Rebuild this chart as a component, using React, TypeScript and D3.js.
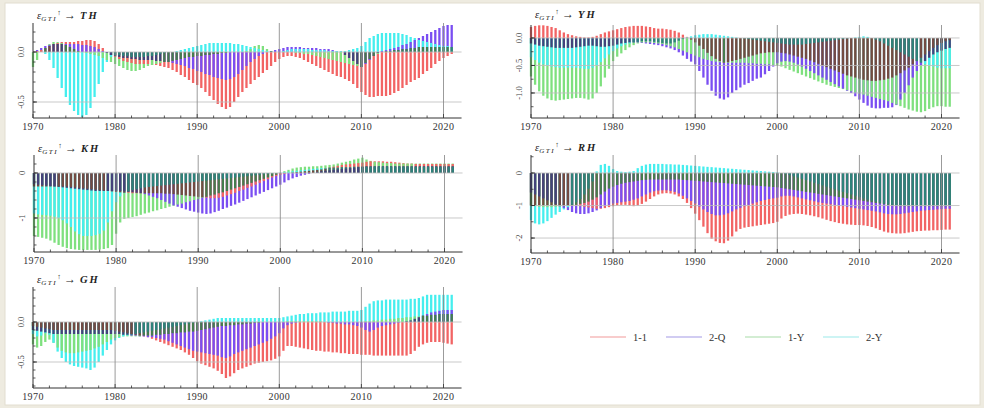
import React from 'react';
import * as d3 from 'd3';

// ---- data: semiannual observations 1970.0 ... 2021.0 (103 points) ----
const START_YEAR = 1970;
const STEP = 0.5;
const seriesNames = ['1-1', '2-Q', '1-Y', '2-Y'];
const seriesColors = ['#f26464', '#7a4ef2', '#7ee07e', '#45eeee'];
const legendColors = ['#f29a9a', '#a39ae6', '#a8dca8', '#9ceaea'];
const xTickYears = [1970, 1980, 1990, 2000, 2010, 2020];

// Panel TH
const thRed = [
  0.00, 0.01, 0.02, 0.04, 0.06, 0.08, 0.09, 0.10, 0.10, 0.10, 0.10, 0.11, 0.11, 0.12, 0.12, 0.11, 0.08, 0.04, 0.00, -0.03,
  -0.05, -0.07, -0.09, -0.10, -0.11, -0.12, -0.12, -0.12, -0.12, -0.13, -0.13, -0.14, -0.15, -0.16, -0.18, -0.20, -0.23, -0.25, -0.28, -0.31,
  -0.33, -0.36, -0.40, -0.44, -0.48, -0.52, -0.55, -0.57, -0.55, -0.50, -0.45, -0.40, -0.36, -0.32, -0.28, -0.25, -0.21, -0.18, -0.14, -0.10,
  -0.07, -0.05, -0.04, -0.04, -0.05, -0.06, -0.08, -0.10, -0.12, -0.14, -0.16, -0.18, -0.20, -0.22, -0.24, -0.25, -0.27, -0.29, -0.32, -0.36,
  -0.40, -0.43, -0.45, -0.45, -0.44, -0.44, -0.44, -0.43, -0.41, -0.39, -0.36, -0.33, -0.30, -0.28, -0.26, -0.22, -0.19, -0.16, -0.12, -0.09,
  -0.06, -0.04, -0.02,
];
const thBlue = [
  0.00, 0.02, 0.04, 0.06, 0.07, 0.08, 0.08, 0.08, 0.08, 0.08, 0.08, 0.08, 0.07, 0.07, 0.06, 0.05, 0.03, 0.01, -0.01, -0.03,
  -0.04, -0.05, -0.06, -0.06, -0.07, -0.07, -0.08, -0.08, -0.08, -0.08, -0.09, -0.09, -0.10, -0.10, -0.11, -0.12, -0.13, -0.14, -0.16, -0.17,
  -0.19, -0.20, -0.22, -0.23, -0.25, -0.26, -0.27, -0.28, -0.27, -0.25, -0.22, -0.18, -0.14, -0.10, -0.07, -0.04, -0.02, 0.00, 0.01, 0.02,
  0.03, 0.04, 0.05, 0.05, 0.05, 0.05, 0.04, 0.04, 0.04, 0.04, 0.03, 0.03, 0.03, 0.02, 0.01, 0.00, -0.03, -0.06, -0.09, -0.12,
  -0.15, -0.12, -0.08, -0.04, -0.01, 0.01, 0.02, 0.03, 0.04, 0.05, 0.07, 0.08, 0.10, 0.12, 0.14, 0.16, 0.18, 0.20, 0.22, 0.24,
  0.26, 0.27, 0.27,
];
const thGreen = [
  -0.15, -0.08, 0.00, 0.04, 0.08, 0.10, 0.10, 0.09, 0.07, 0.05, 0.03, 0.01, 0.00, -0.01, -0.02, -0.03, -0.04, -0.06, -0.08, -0.10,
  -0.12, -0.14, -0.16, -0.18, -0.19, -0.19, -0.18, -0.16, -0.14, -0.13, -0.12, -0.11, -0.10, -0.10, -0.09, -0.08, -0.07, -0.06, -0.05, -0.05,
  -0.04, -0.04, -0.03, -0.03, -0.02, -0.02, -0.01, -0.01, 0.00, 0.00, 0.00, 0.00, 0.01, 0.03, 0.06, 0.07, 0.06, 0.03, 0.01, 0.00,
  0.00, 0.00, 0.00, 0.00, -0.01, -0.01, -0.02, -0.02, -0.03, -0.04, -0.05, -0.06, -0.07, -0.08, -0.09, -0.10, -0.11, -0.12, -0.13, -0.14,
  -0.15, -0.11, -0.07, -0.04, -0.02, 0.00, 0.01, 0.01, 0.02, 0.02, 0.03, 0.03, 0.04, 0.04, 0.05, 0.05, 0.05, 0.05, 0.05, 0.05,
  0.05, 0.05, 0.05,
];
const thCyan = [
  0.00, 0.00, 0.00, -0.02, -0.08, -0.16, -0.26, -0.36, -0.45, -0.53, -0.59, -0.63, -0.65, -0.63, -0.56, -0.45, -0.32, -0.20, -0.10, -0.05,
  -0.03, -0.03, -0.04, -0.04, -0.05, -0.05, -0.05, -0.05, -0.04, -0.04, -0.03, -0.02, -0.01, 0.00, 0.00, 0.01, 0.02, 0.03, 0.04, 0.05,
  0.06, 0.07, 0.08, 0.09, 0.09, 0.09, 0.09, 0.09, 0.09, 0.08, 0.08, 0.07, 0.06, 0.05, 0.04, 0.03, 0.02, 0.01, 0.01, 0.00,
  0.00, 0.01, 0.02, 0.03, 0.03, 0.03, 0.03, 0.03, 0.02, 0.02, 0.02, 0.02, 0.01, 0.01, 0.01, 0.01, 0.01, 0.02, 0.03, 0.04,
  0.06, 0.10, 0.14, 0.16, 0.18, 0.19, 0.19, 0.19, 0.19, 0.19, 0.18, 0.17, 0.15, 0.14, 0.12, 0.11, 0.10, 0.09, 0.08, 0.07,
  0.06, 0.06, 0.05,
];

// Panel YH
const yhRed = [
  0.20, 0.22, 0.23, 0.23, 0.22, 0.20, 0.18, 0.14, 0.10, 0.07, 0.05, 0.03, 0.02, 0.01, 0.01, 0.02, 0.04, 0.07, 0.10, 0.12,
  0.14, 0.16, 0.18, 0.20, 0.21, 0.22, 0.22, 0.22, 0.21, 0.20, 0.18, 0.17, 0.17, 0.16, 0.15, 0.13, 0.10, 0.06, 0.02, -0.03,
  -0.08, -0.14, -0.20, -0.27, -0.33, -0.38, -0.42, -0.45, -0.44, -0.42, -0.40, -0.38, -0.36, -0.34, -0.32, -0.30, -0.28, -0.27, -0.26, -0.26,
  -0.26, -0.27, -0.28, -0.30, -0.32, -0.34, -0.36, -0.38, -0.41, -0.44, -0.47, -0.50, -0.53, -0.56, -0.59, -0.62, -0.65, -0.68, -0.70, -0.72,
  -0.74, -0.76, -0.77, -0.78, -0.78, -0.77, -0.76, -0.74, -0.72, -0.68, -0.64, -0.59, -0.54, -0.48, -0.42, -0.36, -0.30, -0.24, -0.18, -0.13,
  -0.09, -0.06, -0.04,
];
const yhBlue = [
  -0.10, -0.12, -0.14, -0.15, -0.16, -0.17, -0.18, -0.18, -0.18, -0.18, -0.18, -0.17, -0.16, -0.15, -0.14, -0.14, -0.15, -0.16, -0.16, -0.15,
  -0.14, -0.12, -0.10, -0.09, -0.08, -0.08, -0.08, -0.09, -0.10, -0.11, -0.12, -0.13, -0.15, -0.17, -0.19, -0.22, -0.26, -0.32, -0.38, -0.43,
  -0.48, -0.60, -0.72, -0.85, -0.96, -1.05, -1.10, -1.12, -1.08, -1.00, -0.95, -0.90, -0.85, -0.82, -0.78, -0.74, -0.72, -0.66, -0.60, -0.52,
  -0.46, -0.43, -0.42, -0.43, -0.45, -0.48, -0.52, -0.56, -0.60, -0.64, -0.68, -0.72, -0.76, -0.80, -0.84, -0.88, -0.92, -0.96, -1.00, -1.06,
  -1.12, -1.18, -1.23, -1.27, -1.28, -1.28, -1.27, -1.27, -1.26, -1.22, -1.12, -1.00, -0.86, -0.72, -0.60, -0.50, -0.42, -0.36, -0.30, -0.26,
  -0.23, -0.20, -0.18,
];
const yhGreen = [
  -0.70, -0.85, -0.97, -1.05, -1.10, -1.13, -1.14, -1.13, -1.12, -1.11, -1.10, -1.09, -1.09, -1.10, -1.12, -1.10, -1.00, -0.88, -0.72, -0.56,
  -0.42, -0.34, -0.28, -0.22, -0.17, -0.13, -0.10, -0.08, -0.08, -0.08, -0.09, -0.10, -0.11, -0.13, -0.15, -0.17, -0.20, -0.23, -0.26, -0.29,
  -0.32, -0.35, -0.38, -0.40, -0.42, -0.43, -0.44, -0.45, -0.45, -0.45, -0.45, -0.45, -0.45, -0.46, -0.46, -0.47, -0.47, -0.48, -0.48, -0.49,
  -0.50, -0.52, -0.55, -0.58, -0.61, -0.64, -0.67, -0.70, -0.73, -0.76, -0.79, -0.82, -0.85, -0.87, -0.89, -0.91, -0.93, -0.95, -0.97, -0.99,
  -1.01, -1.03, -1.05, -1.07, -1.09, -1.11, -1.13, -1.15, -1.18, -1.21, -1.24, -1.27, -1.30, -1.32, -1.34, -1.35, -1.33, -1.29, -1.26, -1.24,
  -1.24, -1.25, -1.25,
];
const yhCyan = [
  -0.35, -0.40, -0.45, -0.48, -0.50, -0.52, -0.53, -0.54, -0.54, -0.54, -0.54, -0.54, -0.55, -0.56, -0.56, -0.54, -0.50, -0.44, -0.37, -0.30,
  -0.24, -0.19, -0.15, -0.12, -0.10, -0.08, -0.07, -0.06, -0.06, -0.06, -0.07, -0.08, -0.09, -0.10, -0.10, -0.08, -0.05, -0.02, 0.01, 0.03,
  0.05, 0.06, 0.07, 0.07, 0.07, 0.06, 0.05, 0.04, 0.03, 0.02, 0.01, 0.00, -0.01, -0.02, -0.03, -0.04, -0.05, -0.06, -0.07, -0.08,
  -0.09, -0.10, -0.11, -0.12, -0.12, -0.12, -0.12, -0.11, -0.10, -0.09, -0.08, -0.07, -0.06, -0.05, -0.04, -0.03, -0.02, -0.01, 0.00, 0.01,
  0.02, 0.03, 0.02, 0.00, -0.03, -0.06, -0.10, -0.14, -0.18, -0.22, -0.26, -0.30, -0.34, -0.38, -0.42, -0.45, -0.48, -0.50, -0.52, -0.54,
  -0.55, -0.55, -0.55,
];

// Panel KH
const khRed = [
  -0.30, -0.30, -0.30, -0.30, -0.30, -0.30, -0.30, -0.30, -0.30, -0.31, -0.32, -0.33, -0.34, -0.35, -0.36, -0.37, -0.38, -0.39, -0.40, -0.41,
  -0.42, -0.43, -0.44, -0.44, -0.45, -0.45, -0.45, -0.45, -0.45, -0.45, -0.45, -0.45, -0.46, -0.46, -0.47, -0.48, -0.49, -0.50, -0.51, -0.52,
  -0.53, -0.54, -0.55, -0.56, -0.56, -0.55, -0.53, -0.50, -0.47, -0.44, -0.40, -0.37, -0.33, -0.30, -0.26, -0.22, -0.18, -0.14, -0.10, -0.07,
  -0.04, -0.02, 0.00, 0.01, 0.02, 0.03, 0.04, 0.05, 0.06, 0.07, 0.08, 0.10, 0.12, 0.14, 0.16, 0.18, 0.19, 0.20, 0.21, 0.22,
  0.23, 0.25, 0.26, 0.26, 0.26, 0.26, 0.25, 0.25, 0.24, 0.23, 0.22, 0.21, 0.21, 0.20, 0.20, 0.20, 0.20, 0.20, 0.20, 0.20,
  0.20, 0.20, 0.20,
];
const khBlue = [
  -0.25, -0.26, -0.27, -0.28, -0.29, -0.30, -0.31, -0.32, -0.33, -0.34, -0.35, -0.36, -0.37, -0.38, -0.39, -0.40, -0.40, -0.40, -0.40, -0.40,
  -0.40, -0.40, -0.41, -0.42, -0.43, -0.44, -0.45, -0.47, -0.50, -0.53, -0.56, -0.60, -0.64, -0.68, -0.72, -0.75, -0.78, -0.81, -0.84, -0.86,
  -0.88, -0.90, -0.91, -0.90, -0.87, -0.84, -0.80, -0.77, -0.73, -0.70, -0.66, -0.62, -0.58, -0.54, -0.50, -0.46, -0.42, -0.38, -0.34, -0.30,
  -0.26, -0.21, -0.16, -0.12, -0.09, -0.06, -0.04, -0.02, 0.00, 0.02, 0.04, 0.05, 0.06, 0.07, 0.08, 0.09, 0.10, 0.11, 0.12, 0.13,
  0.14, 0.15, 0.15, 0.15, 0.15, 0.15, 0.15, 0.15, 0.15, 0.15, 0.15, 0.15, 0.15, 0.15, 0.15, 0.15, 0.15, 0.15, 0.15, 0.15,
  0.15, 0.15, 0.15,
];
const khGreen = [
  -1.40, -1.42, -1.44, -1.46, -1.50, -1.55, -1.60, -1.64, -1.67, -1.69, -1.70, -1.71, -1.71, -1.71, -1.71, -1.71, -1.70, -1.69, -1.67, -1.60,
  -1.35, -1.10, -1.02, -1.00, -0.98, -0.96, -0.93, -0.90, -0.88, -0.85, -0.83, -0.80, -0.78, -0.75, -0.73, -0.70, -0.68, -0.65, -0.63, -0.60,
  -0.58, -0.55, -0.53, -0.50, -0.48, -0.45, -0.43, -0.40, -0.37, -0.34, -0.31, -0.28, -0.25, -0.22, -0.19, -0.16, -0.13, -0.10, -0.07, -0.04,
  0.00, 0.04, 0.07, 0.10, 0.12, 0.13, 0.14, 0.14, 0.15, 0.15, 0.16, 0.17, 0.18, 0.19, 0.21, 0.23, 0.25, 0.27, 0.30, 0.32,
  0.34, 0.30, 0.27, 0.25, 0.24, 0.23, 0.22, 0.22, 0.21, 0.21, 0.21, 0.21, 0.21, 0.21, 0.21, 0.21, 0.21, 0.21, 0.21, 0.21,
  0.21, 0.21, 0.21,
];
const khCyan = [
  -0.90, -0.92, -0.93, -0.94, -0.95, -0.97, -1.00, -1.05, -1.12, -1.20, -1.30, -1.36, -1.40, -1.40, -1.40, -1.38, -1.35, -1.28, -1.10, -0.85,
  -0.65, -0.52, -0.45, -0.41, -0.38, -0.36, -0.34, -0.32, -0.31, -0.30, -0.29, -0.28, -0.27, -0.26, -0.25, -0.24, -0.23, -0.22, -0.21, -0.20,
  -0.19, -0.18, -0.17, -0.16, -0.15, -0.14, -0.13, -0.12, -0.11, -0.10, -0.09, -0.08, -0.07, -0.06, -0.05, -0.04, -0.03, -0.02, -0.01, 0.00,
  0.01, 0.02, 0.03, 0.04, 0.05, 0.06, 0.07, 0.08, 0.09, 0.10, 0.11, 0.11, 0.12, 0.12, 0.12, 0.13, 0.13, 0.13, 0.14, 0.14,
  0.14, 0.14, 0.14, 0.14, 0.14, 0.14, 0.14, 0.14, 0.14, 0.14, 0.14, 0.14, 0.14, 0.14, 0.14, 0.14, 0.14, 0.14, 0.14, 0.14,
  0.14, 0.14, 0.14,
];

// Panel RH
const rhRed = [
  -1.00, -1.00, -1.00, -1.00, -1.00, -1.00, -1.00, -1.00, -1.00, -1.00, -1.00, -1.00, -1.02, -1.04, -1.06, -1.08, -1.10, -1.10, -1.08, -1.05,
  -1.02, -1.00, -0.98, -0.98, -1.00, -1.02, -1.00, -0.95, -0.88, -0.80, -0.72, -0.66, -0.63, -0.62, -0.63, -0.66, -0.72, -0.80, -0.92, -1.08,
  -1.25, -1.45, -1.65, -1.85, -2.02, -2.10, -2.15, -2.16, -2.08, -1.95, -1.80, -1.72, -1.68, -1.66, -1.64, -1.62, -1.60, -1.58, -1.56, -1.54,
  -1.50, -1.40, -1.32, -1.28, -1.26, -1.25, -1.26, -1.28, -1.30, -1.33, -1.36, -1.40, -1.44, -1.48, -1.51, -1.54, -1.56, -1.58, -1.59, -1.60,
  -1.60, -1.61, -1.63, -1.66, -1.70, -1.75, -1.80, -1.83, -1.85, -1.86, -1.86, -1.85, -1.83, -1.81, -1.79, -1.78, -1.77, -1.77, -1.76, -1.76,
  -1.75, -1.74, -1.74,
];
const rhBlue = [
  -0.60, -0.66, -0.72, -0.78, -0.84, -0.90, -0.96, -1.02, -1.08, -1.14, -1.20, -1.24, -1.26, -1.26, -1.24, -1.20, -1.15, -1.08, -1.02, -0.98,
  -0.94, -0.92, -0.90, -0.88, -0.86, -0.82, -0.78, -0.72, -0.66, -0.60, -0.56, -0.54, -0.53, -0.53, -0.55, -0.58, -0.63, -0.70, -0.78, -0.86,
  -0.94, -1.03, -1.12, -1.20, -1.26, -1.30, -1.30, -1.28, -1.24, -1.18, -1.12, -1.07, -1.02, -0.98, -0.94, -0.90, -0.86, -0.83, -0.80, -0.78,
  -0.76, -0.72, -0.70, -0.70, -0.72, -0.75, -0.78, -0.81, -0.84, -0.87, -0.90, -0.92, -0.94, -0.96, -0.98, -1.00, -1.02, -1.04, -1.06, -1.08,
  -1.10, -1.12, -1.14, -1.16, -1.18, -1.21, -1.24, -1.26, -1.27, -1.27, -1.26, -1.24, -1.22, -1.20, -1.18, -1.16, -1.15, -1.14, -1.13, -1.12,
  -1.11, -1.10, -1.10,
];
const rhGreen = [
  -1.00, -1.02, -1.04, -1.05, -1.05, -1.05, -1.04, -1.03, -1.02, -1.01, -1.00, -0.98, -0.95, -0.92, -0.88, -0.82, -0.75, -0.66, -0.57, -0.48,
  -0.42, -0.37, -0.33, -0.30, -0.28, -0.26, -0.24, -0.22, -0.21, -0.20, -0.20, -0.20, -0.20, -0.20, -0.20, -0.20, -0.20, -0.21, -0.22, -0.23,
  -0.24, -0.25, -0.26, -0.27, -0.28, -0.29, -0.30, -0.31, -0.32, -0.33, -0.34, -0.35, -0.36, -0.37, -0.38, -0.39, -0.40, -0.41, -0.42, -0.43,
  -0.44, -0.46, -0.48, -0.50, -0.52, -0.54, -0.56, -0.58, -0.60, -0.62, -0.64, -0.66, -0.68, -0.70, -0.72, -0.74, -0.76, -0.78, -0.80, -0.82,
  -0.84, -0.86, -0.88, -0.90, -0.92, -0.94, -0.96, -0.98, -1.00, -1.01, -1.02, -1.02, -1.02, -1.02, -1.02, -1.02, -1.02, -1.02, -1.02, -1.02,
  -1.02, -1.02, -1.02,
];
const rhCyan = [
  -1.45, -1.55, -1.58, -1.55, -1.48, -1.38, -1.28, -1.20, -1.12, -1.05, -0.98, -0.90, -0.80, -0.66, -0.48, -0.26, 0.05, 0.25, 0.28, 0.22,
  0.12, 0.06, 0.04, 0.03, 0.04, 0.06, 0.15, 0.22, 0.26, 0.28, 0.28, 0.28, 0.28, 0.27, 0.27, 0.26, 0.26, 0.25, 0.24, 0.23,
  0.22, 0.21, 0.20, 0.19, 0.18, 0.17, 0.16, 0.15, 0.14, 0.13, 0.12, 0.11, 0.10, 0.09, 0.08, 0.07, 0.06, 0.05, 0.04, 0.03,
  0.02, 0.00, -0.03, -0.06, -0.10, -0.14, -0.18, -0.22, -0.26, -0.30, -0.34, -0.38, -0.42, -0.46, -0.50, -0.54, -0.58, -0.62, -0.66, -0.70,
  -0.74, -0.78, -0.82, -0.85, -0.88, -0.91, -0.94, -0.96, -0.98, -1.00, -1.00, -1.00, -1.00, -1.00, -1.00, -1.00, -1.00, -1.00, -1.00, -1.00,
  -1.00, -1.00, -1.00,
];

// Panel GH
const ghRed = [
  -0.05, -0.06, -0.07, -0.08, -0.09, -0.10, -0.10, -0.10, -0.10, -0.10, -0.10, -0.10, -0.10, -0.10, -0.10, -0.10, -0.10, -0.10, -0.10, -0.10,
  -0.11, -0.12, -0.13, -0.14, -0.15, -0.16, -0.17, -0.18, -0.19, -0.21, -0.23, -0.25, -0.27, -0.29, -0.31, -0.33, -0.35, -0.38, -0.41, -0.45,
  -0.49, -0.52, -0.54, -0.56, -0.58, -0.61, -0.65, -0.70, -0.68, -0.64, -0.60, -0.58, -0.56, -0.54, -0.52, -0.51, -0.50, -0.49, -0.48, -0.46,
  -0.43, -0.36, -0.30, -0.30, -0.31, -0.32, -0.33, -0.34, -0.35, -0.36, -0.36, -0.37, -0.37, -0.38, -0.38, -0.39, -0.39, -0.40, -0.40, -0.40,
  -0.41, -0.41, -0.41, -0.42, -0.42, -0.42, -0.42, -0.42, -0.42, -0.42, -0.42, -0.42, -0.40, -0.36, -0.31, -0.28, -0.26, -0.25, -0.25, -0.25,
  -0.26, -0.27, -0.28,
];
const ghBlue = [
  -0.10, -0.11, -0.12, -0.13, -0.14, -0.15, -0.15, -0.15, -0.15, -0.15, -0.15, -0.15, -0.15, -0.15, -0.15, -0.15, -0.15, -0.15, -0.15, -0.15,
  -0.15, -0.15, -0.16, -0.16, -0.17, -0.17, -0.18, -0.18, -0.19, -0.19, -0.20, -0.21, -0.22, -0.24, -0.26, -0.28, -0.30, -0.32, -0.34, -0.36,
  -0.37, -0.38, -0.39, -0.40, -0.41, -0.42, -0.44, -0.45, -0.43, -0.40, -0.38, -0.36, -0.34, -0.32, -0.30, -0.28, -0.26, -0.24, -0.21, -0.18,
  -0.14, -0.08, -0.04, -0.02, -0.01, 0.00, 0.00, 0.00, 0.00, 0.00, 0.00, 0.00, -0.01, -0.01, -0.02, -0.02, -0.03, -0.03, -0.04, -0.05,
  -0.07, -0.10, -0.12, -0.10, -0.07, -0.05, -0.04, -0.03, -0.02, -0.01, 0.00, 0.01, 0.02, 0.04, 0.06, 0.08, 0.10, 0.12, 0.13, 0.14,
  0.15, 0.15, 0.15,
];
const ghGreen = [
  -0.28, -0.32, -0.30, -0.25, -0.22, -0.26, -0.32, -0.36, -0.38, -0.39, -0.39, -0.38, -0.37, -0.36, -0.35, -0.33, -0.31, -0.28, -0.25, -0.22,
  -0.20, -0.19, -0.18, -0.18, -0.18, -0.18, -0.18, -0.17, -0.17, -0.17, -0.16, -0.16, -0.15, -0.15, -0.14, -0.14, -0.13, -0.13, -0.12, -0.12,
  -0.11, -0.10, -0.09, -0.08, -0.07, -0.06, -0.05, -0.05, -0.04, -0.04, -0.03, -0.03, -0.02, -0.02, -0.01, -0.01, 0.00, 0.00, 0.00, 0.00,
  0.00, 0.00, 0.01, 0.01, 0.01, 0.01, 0.01, 0.01, 0.01, 0.01, 0.01, 0.00, 0.00, 0.00, 0.00, 0.00, 0.00, 0.00, 0.00, 0.00,
  0.00, 0.01, 0.01, 0.02, 0.02, 0.03, 0.03, 0.04, 0.04, 0.05, 0.05, 0.06, 0.06, 0.07, 0.07, 0.08, 0.08, 0.09, 0.09, 0.10,
  0.10, 0.10, 0.10,
];
const ghCyan = [
  -0.15, -0.18, -0.17, -0.14, -0.16, -0.26, -0.37, -0.45, -0.50, -0.53, -0.55, -0.56, -0.57, -0.58, -0.60, -0.57, -0.50, -0.42, -0.35, -0.28,
  -0.23, -0.20, -0.18, -0.17, -0.16, -0.15, -0.14, -0.13, -0.12, -0.11, -0.10, -0.09, -0.08, -0.07, -0.06, -0.05, -0.04, -0.03, -0.02, -0.01,
  0.00, 0.01, 0.02, 0.03, 0.04, 0.05, 0.05, 0.05, 0.05, 0.05, 0.05, 0.05, 0.05, 0.05, 0.05, 0.05, 0.05, 0.05, 0.05, 0.05,
  0.05, 0.06, 0.07, 0.08, 0.09, 0.10, 0.10, 0.11, 0.11, 0.11, 0.12, 0.12, 0.12, 0.13, 0.13, 0.13, 0.13, 0.14, 0.14, 0.14,
  0.15, 0.19, 0.23, 0.26, 0.27, 0.27, 0.28, 0.28, 0.28, 0.28, 0.28, 0.28, 0.29, 0.29, 0.30, 0.32, 0.34, 0.34, 0.34, 0.34,
  0.34, 0.34, 0.34,
];

// ---- panel layout ----
type Panel = {
  target: string;
  series: number[][];
  left: number;
  top: number;
  bottom: number;
  yDomain: [number, number];
  yTicks: number[];
  yTickLabels: string[];
  yMinor: number;
  titleY: number;
};

const panels: Panel[] = [
  { target: 'TH', series: [thRed, thBlue, thGreen, thCyan], left: 33, top: 23, bottom: 118, yDomain: [-0.66, 0.29], yTicks: [0, -0.5], yTickLabels: ['0.0', '-0.5'], yMinor: 0.1, titleY: 19 },
  { target: 'YH', series: [yhRed, yhBlue, yhGreen, yhCyan], left: 531, top: 25, bottom: 118, yDomain: [-1.455, 0.236], yTicks: [0, -0.5, -1], yTickLabels: ['0.0', '-0.5', '-1.0'], yMinor: 0.25, titleY: 18 },
  { target: 'KH', series: [khRed, khBlue, khGreen, khCyan], left: 34, top: 155, bottom: 252, yDomain: [-1.756, 0.4], yTicks: [0, -1], yTickLabels: ['0', '-1'], yMinor: 0.2, titleY: 152 },
  { target: 'RH', series: [rhRed, rhBlue, rhGreen, rhCyan], left: 531, top: 155, bottom: 253, yDomain: [-2.46, 0.554], yTicks: [0, -1, -2], yTickLabels: ['0', '-1', '-2'], yMinor: 0.5, titleY: 151 },
  { target: 'GH', series: [ghRed, ghBlue, ghGreen, ghCyan], left: 33, top: 287, bottom: 388, yDomain: [-0.825, 0.4375], yTicks: [0, -0.5], yTickLabels: ['0.0', '-0.5'], yMinor: 0.1, titleY: 283 },
];

const SERIF = "'Liberation Serif', 'DejaVu Serif', serif";
// colour of a bar lying under two or more larger bars: a dark, muddy tone of its own hue
const shade = (c: string) => d3.interpolateRgb(c, '#1f3a2c')(0.6);

function PanelView({ p }: { p: Panel }) {
  const x = d3.scaleLinear().domain([1970, 2020]).range([p.left, p.left + 410.5]);
  const y = d3.scaleLinear().domain(p.yDomain).range([p.bottom, p.top]);
  const axisEnd = x(2022.2);
  const y0 = y(0);
  const minorY = d3.range(Math.ceil(p.yDomain[0] / p.yMinor) * p.yMinor, p.yDomain[1], p.yMinor);
  const minorX = d3.range(1970, 2022, 2);
  const n = p.series[0].length;

  // for each observation: bars of the same sign, drawn largest first
  const columns = d3.range(n).map((i) => {
    const entries = p.series.map((vals, si) => ({ si, v: vals[i] }));
    const out: { si: number; v: number; rank: number }[] = [];
    [entries.filter((e) => e.v < 0), entries.filter((e) => e.v >= 0)].forEach((grp) => {
      grp.sort((a, b) => Math.abs(b.v) - Math.abs(a.v));
      grp.forEach((e, r) => out.push({ ...e, rank: r }));
    });
    return { t: START_YEAR + i * STEP, out };
  });

  return (
    <g>
      {/* bars */}
      <g strokeWidth={2.3}>
        {columns.map((col, i) => (
          <g key={i}>
            {col.out.map((e) => (
              <line
                key={e.si}
                x1={x(col.t)}
                x2={x(col.t)}
                y1={y0}
                y2={y(e.v)}
                stroke={e.rank >= 2 ? shade(seriesColors[e.si]) : seriesColors[e.si]}
              />
            ))}
          </g>
        ))}
      </g>
      {/* horizontal grid at labelled ticks */}
      {p.yTicks.map((t) => (
        <line key={'h' + t} x1={p.left} x2={axisEnd} y1={y(t)} y2={y(t)} stroke="#bdbdbd" strokeWidth={1} opacity={0.8} />
      ))}
      {/* vertical grid at decades */}
      {xTickYears.slice(1).map((yr) => (
        <line key={'v' + yr} x1={x(yr)} x2={x(yr)} y1={p.top} y2={p.bottom} stroke="#8a8a8a" strokeWidth={1} opacity={0.85} />
      ))}
      {/* axes */}
      <line x1={p.left} x2={p.left} y1={p.top} y2={p.bottom} stroke="#333" strokeWidth={1} />
      <line x1={p.left} x2={axisEnd} y1={p.bottom} y2={p.bottom} stroke="#333" strokeWidth={1} />
      {minorY.map((t, i) => (
        <line key={'my' + i} x1={p.left} x2={p.left + 2.5} y1={y(t)} y2={y(t)} stroke="#333" strokeWidth={0.8} />
      ))}
      {p.yTicks.map((t) => (
        <line key={'my2' + t} x1={p.left} x2={p.left + 4} y1={y(t)} y2={y(t)} stroke="#333" strokeWidth={0.9} />
      ))}
      {minorX.map((t) => (
        <line key={'mx' + t} x1={x(t)} x2={x(t)} y1={p.bottom} y2={p.bottom - (t % 10 === 0 ? 4 : 2.5)} stroke="#333" strokeWidth={0.8} />
      ))}
      {/* x tick labels */}
      {xTickYears.map((yr) => (
        <text key={'xl' + yr} x={x(yr)} y={p.bottom + 12} textAnchor="middle" fontFamily={SERIF} fontSize={10} fill="#333" letterSpacing={0.4}>
          {yr}
        </text>
      ))}
      {/* y tick labels, rotated */}
      {p.yTicks.map((t, i) => (
        <text key={'yl' + t} transform={`translate(${p.left - 9},${y(t)}) rotate(-90)`} textAnchor="middle" fontFamily={SERIF} fontSize={8.5} fill="#444">
          {p.yTickLabels[i]}
        </text>
      ))}
      {/* title */}
      <text x={p.left + 4} y={p.titleY} fontFamily={SERIF} fill="#222">
        <tspan fontSize={10.5} fontStyle="italic">ε</tspan>
        <tspan fontSize={7} fontStyle="italic" dy={2} letterSpacing={1.6}>GTI</tspan>
        <tspan fontSize={7.5} dy={-6.5}>↑</tspan>
        <tspan fontSize={12} dy={4.5} dx={3}>→</tspan>
        <tspan fontSize={10.5} fontStyle="italic" fontWeight="bold" dx={4} letterSpacing={2}>{p.target}</tspan>
      </text>
    </g>
  );
}

const legendX = [590, 666, 745, 823];

export default function App() {
  return (
    <svg width={984} height={408} style={{ position: 'absolute', left: 0, top: 0 }}>
      <rect x={0} y={0} width={984} height={408} fill="#eeebe0" />
      <rect x={5} y={3} width={975} height={402} fill="#ffffff" stroke="#e2ded0" strokeWidth={1} />
      {panels.map((p) => (
        <PanelView key={p.target} p={p} />
      ))}
      {seriesNames.map((name, i) => (
        <g key={name}>
          <line x1={legendX[i]} x2={legendX[i] + 36} y1={337} y2={337} stroke={legendColors[i]} strokeWidth={1.2} />
          <text x={legendX[i] + 43} y={340.5} fontFamily={SERIF} fontSize={10.5} fill="#333">
            {name}
          </text>
        </g>
      ))}
    </svg>
  );
}
